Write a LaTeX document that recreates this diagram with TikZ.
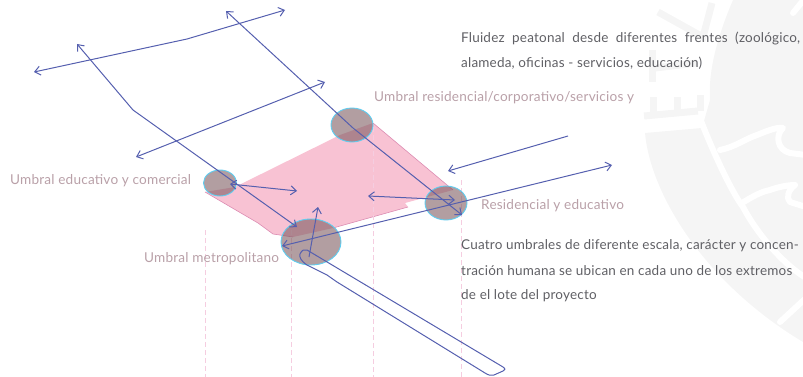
\documentclass[tikz,border=0pt]{standalone}
\usepackage{fontspec}
\setmainfont{Lato}
\usetikzlibrary{arrows.meta,shapes.geometric}
\definecolor{flow}{RGB}{85,95,175}
\definecolor{plot}{RGB}{248,194,211}
\definecolor{plotedge}{RGB}{220,140,178}
\definecolor{guide}{RGB}{245,205,224}
\definecolor{umbralfill}{RGB}{122,88,93}
\definecolor{umbraledge}{RGB}{95,205,240}
\definecolor{labelc}{RGB}{185,160,168}
\definecolor{bodyc}{RGB}{95,95,100}
\definecolor{seal}{RGB}{245,245,245}
\newfontfamily\wide[LetterSpace=1.5]{Lato}
\tikzset{
  x=1pt,y=-1pt,
  flowline/.style={draw=flow,line width=1pt},
  oneway/.style={flowline,-{Straight Barb[length=5.5pt,width=9pt]}},
  twoway/.style={flowline,{Straight Barb[length=5.5pt,width=9pt]}-{Straight Barb[length=5.5pt,width=9pt]}},
  guideline/.style={draw=guide,line width=0.8pt,dash pattern=on 5pt off 3pt},
  umbral/.style={ellipse,fill=umbralfill,fill opacity=0.58,draw=umbraledge,line width=0.9pt,inner sep=0pt},
  umbrallabel/.style={text=labelc,font=\wide\fontsize{13.6}{15}\selectfont,inner sep=0pt,anchor=west},
  bodytext/.style={text=bodyc,font=\wide\fontsize{13.5}{15}\selectfont,inner sep=0pt,anchor=west},
  sealband/.style={fill=seal},
  sealgap/.style={draw=white,line width=6pt,line cap=round,line join=round},
  sealmark/.style={draw=seal,line width=7pt}
}
\begin{document}
\begin{tikzpicture}
\useasboundingbox (0,0) rectangle (803,377);
% watermark seal
\path[sealband] (733,0) .. controls (718,35) and (708,70) .. (710,100) -- (702,128) -- (645,133) .. controls (650,190) and (700,280) .. (803,342) -- (803,0) -- cycle;
\draw[sealgap] (700,118) .. controls (708,140) and (730,190) .. (743,207) .. controls (755,230) and (780,262) .. (806,278);
\draw[sealgap] (720,150) .. controls (735,147) and (745,139) .. (757,135) .. controls (767,131) and (776,127) .. (783,128) .. controls (775,135) and (777,150) .. (790,153) -- (806,155);
\draw[sealgap] (742,203) .. controls (752,197) and (760,192) .. (770,190) .. controls (778,187) and (788,185) .. (795,185) .. controls (788,190) and (786,198) .. (790,202) -- (806,207);
\draw[sealgap] (780,322) -- (806,298);
\draw[sealgap] (793,13) -- (806,-3);
\draw[sealmark] (644,116) -- (698,111);
\draw[sealmark] (653,114) -- (653,97) (677,112) -- (677,97) (700,111) -- (700,95);
\draw[sealmark] (655,68) -- (697,63);
\draw[sealmark] (652,50) -- (652,82);
\draw[sealmark] (658,12) -- (703,37) -- (712,3);
% plot
\path[fill=plot] (373,123) -- (453,190) -- (405,203) -- (408,207) -- (333,228) -- (293,237) -- (273,234) -- (258,223) -- (205,192) -- (235,187) -- (340,135) -- cycle;
\draw[plotedge,line width=0.6pt] (373,123) -- (453,190);
\draw[plotedge,line width=0.6pt] (408,207) -- (333,228);
\draw[plotedge,line width=0.6pt] (205,192) -- (258,223) -- (273,234) -- (293,237);
% guides
\draw[guideline] (205,230) -- (205,377);
\draw[guideline] (291,230) -- (291,377);
\draw[guideline] (373,127) -- (373,377);
\draw[guideline] (461,180) -- (461,377);
% thresholds
\node[umbral,minimum width=42pt,minimum height=34pt] (top) at (352,125) {};
\node[umbral,minimum width=33pt,minimum height=26pt] (left) at (220,183) {};
\node[umbral,minimum width=42pt,minimum height=34pt] (right) at (446,203) {};
\node[umbral,minimum width=60pt,minimum height=46pt] (metro) at (311,242) {};
% free ends
\coordinate (a1) at (34,72); \coordinate (a2) at (187,39); \coordinate (a3) at (285,10);
\coordinate (b1) at (77,44); \coordinate (b2) at (133,110); \coordinate (b3) at (297,227);
\coordinate (c1) at (226,11); \coordinate (c2) at (353,128); \coordinate (c3) at (462,215);
\coordinate (d1) at (136,157); \coordinate (d2) at (325,82);
\coordinate (e1) at (568,136); \coordinate (e2) at (448,171);
\coordinate (f1) at (612,165); \coordinate (f2) at (282,246);
\coordinate (g1) at (309,257); \coordinate (g2) at (318,207);
\coordinate (h1) at (230,184); \coordinate (h2) at (297,191);
\coordinate (i1) at (368,196); \coordinate (i2) at (455,200);
\draw[twoway] (a1) -- (a2) -- (a3);
\draw[twoway] (b1) -- (b2) -- (b3);
\draw[twoway] (c1) -- (c2) -- (c3);
\draw[twoway] (d1) -- (d2);
\draw[oneway] (e1) -- (e2);
\draw[twoway] (f1) -- (f2);
\draw[oneway] (g1) -- (g2);
\draw[twoway] (h1) -- (h2);
\draw[twoway] (i1) -- (i2);
% tab
\draw[flowline,line join=round] (307,250) -- (503,367) .. controls (506,369) and (505,370) .. (503,371) -- (494,375) .. controls (491,376) and (488,375) .. (485,373) -- (337,282) -- (327,275) -- (307,265) .. controls (301,261) and (299,257) .. (300,254) .. controls (302,250) and (304,249) .. (307,250) -- cycle;
% labels
\node[umbrallabel] (l1) at (374,97.5) {Umbral residencial/corporativo/servicios y};
\node[umbrallabel] (l2) at (10,180.5) {Umbral educativo y comercial};
\node[umbrallabel] (l3) at (481,205.5) {Residencial y educativo};
\node[umbrallabel] (l4) at (144,258.5) {Umbral metropolitano};
\node[bodytext] (t1) at (461,38) {\makebox[339pt][s]{Fluidez peatonal desde diferentes frentes (zoológico,}};
\node[bodytext] (t2) at (461,63) {alameda, oficinas - servicios, educación)};
\node[bodytext] (t3) at (461,246) {Cuatro umbrales de diferente escala, carácter y concen-};
\node[bodytext] (t4) at (461,271) {tración humana se ubican en cada uno de los extremos};
\node[bodytext] (t5) at (461,296) {de el lote del proyecto};
\end{tikzpicture}
\end{document}
